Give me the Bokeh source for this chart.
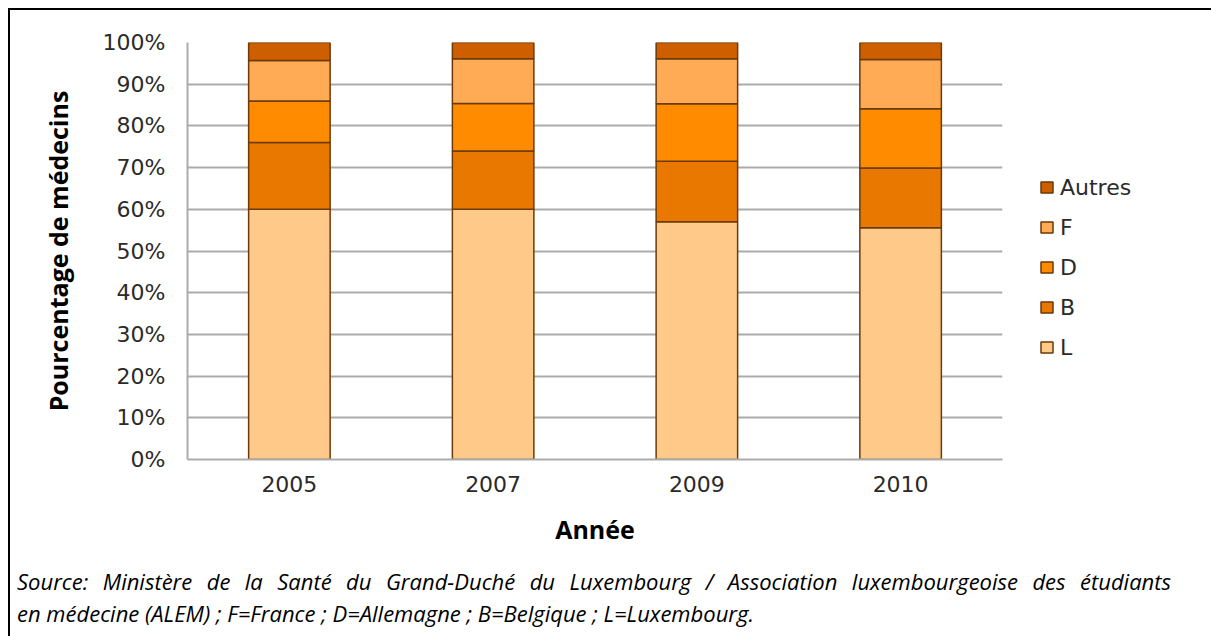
from bokeh.plotting import figure
from bokeh.layouts import column, row
from bokeh.models import (Legend, LegendItem, FixedTicker, PrintfTickFormatter,
                          Range1d, FactorRange, Div)
from bokeh.embed import file_html
from bokeh.resources import INLINE

# ---- data ----
years = ["2005", "2007", "2009", "2010"]
L = [60.0, 60.0, 57.0, 55.6]
B = [16.0, 14.0, 14.5, 14.3]
D = [10.0, 11.4, 13.8, 14.2]
F = [9.7, 10.7, 10.8, 11.8]
Autres = [4.3, 3.9, 3.9, 4.1]
series = ["L", "B", "D", "F", "Autres"]
colors = ["#FFC98A", "#E87800", "#FF8C00", "#FFAA55", "#CD5F00"]
y_ticks = [0, 10, 20, 30, 40, 50, 60, 70, 80, 90, 100]

source_lines = [
    "Source: Ministère de la Santé du Grand-Duché du Luxembourg / Association luxembourgeoise des étudiants",
    "en médecine (ALEM) ; F=France ; D=Allemagne ; B=Belgique ; L=Luxembourg.",
]

W, H = 1000, 546
LW = 201
FL, FR, FT, FB = 177, 992, 32, 449   # frame edges in canvas px

data = dict(years=years, L=L, B=B, D=D, F=F, Autres=Autres)

p = figure(x_range=FactorRange(*years), y_range=Range1d(0, 100),
           width=W, height=H, output_backend="svg", toolbar_location=None,
           min_border_left=FL, min_border_right=W - FR,
           min_border_top=FT, min_border_bottom=H - FB)
p.outline_line_color = None
p.background_fill_color = "white"
p.border_fill_color = "white"

p.vbar_stack(series, x="years", width=0.4, source=data, color=colors,
             line_color="#6B3A08", line_width=1.5)

# grid
p.xgrid.visible = False
p.ygrid.grid_line_color = "#ABABAB"
p.ygrid.grid_line_width = 2
p.yaxis.ticker = FixedTicker(ticks=y_ticks)
p.yaxis.formatter = PrintfTickFormatter(format="%d%%")

for ax in (p.xaxis, p.yaxis):
    ax.major_tick_line_color = None
    ax.minor_tick_line_color = None
    ax.axis_line_color = "#ABABAB"
    ax.axis_line_width = 2
    ax.major_label_text_font = "DejaVu Sans"
    ax.major_label_text_font_size = "22px"
    ax.major_label_text_color = "#2a2a2a"
    ax.axis_label_text_font = "Open Sans"
    ax.axis_label_text_font_style = "bold"
    ax.axis_label_text_font_size = "25px"
    ax.axis_label_text_color = "#000000"

p.yaxis.major_label_standoff = 16
p.yaxis.axis_label = "Pourcentage de médecins"
p.yaxis.axis_label_standoff = 25
p.xaxis.major_label_standoff = 10
p.xaxis.axis_label = "Année"
p.xaxis.axis_label_standoff = 17

# legend panel: a narrow figure to the right; its stack is hidden, only the legend shows
lf = figure(x_range=FactorRange(*years), y_range=Range1d(0, 100),
            width=LW, height=H, output_backend="svg", toolbar_location=None,
            x_axis_location=None, y_axis_location=None,
            min_border=0, outline_line_color=None)
lf.grid.visible = False
lf.background_fill_color = "white"
lf.border_fill_color = "white"
lrs = lf.vbar_stack(series, x="years", width=0.4, source=data, color=colors,
                    line_color="#6B3A08", line_width=1.5)
for r in lrs:
    r.visible = False

items = [LegendItem(label=s, renderers=[r]) for s, r in zip(series, lrs)][::-1]
legend = Legend(items=items, location=(29, 99), padding=0, margin=0,
                border_line_color=None, background_fill_alpha=0,
                inactive_fill_alpha=0,
                glyph_width=15, glyph_height=14, label_height=26, spacing=14,
                label_standoff=6, label_text_font="DejaVu Sans",
                label_text_font_size="22px", label_text_color="#2a2a2a")
lf.add_layout(legend, "center")

# source note below the chart (first line justified, as in the original)
note = Div(
    text=("<div style=\"width:1154px;text-align:justify;text-align-last:justify;\">%s</div>"
          "<div>%s</div>") % (source_lines[0], source_lines[1]),
    width=W + LW, height=80,
    styles={"font-family": "'Open Sans'", "font-style": "italic",
            "font-size": "22px", "line-height": "32px", "color": "#000",
            "padding-top": "4px", "padding-left": "2px",
            "box-sizing": "border-box", "background": "white"})

layout = column(row(p, lf, spacing=0), note, spacing=0,
                styles={"margin-left": "8px", "margin-top": "8px",
                        "border-left": "2px solid #000", "border-top": "2px solid #000"})

open("out.html", "w").write(file_html(layout, INLINE))
